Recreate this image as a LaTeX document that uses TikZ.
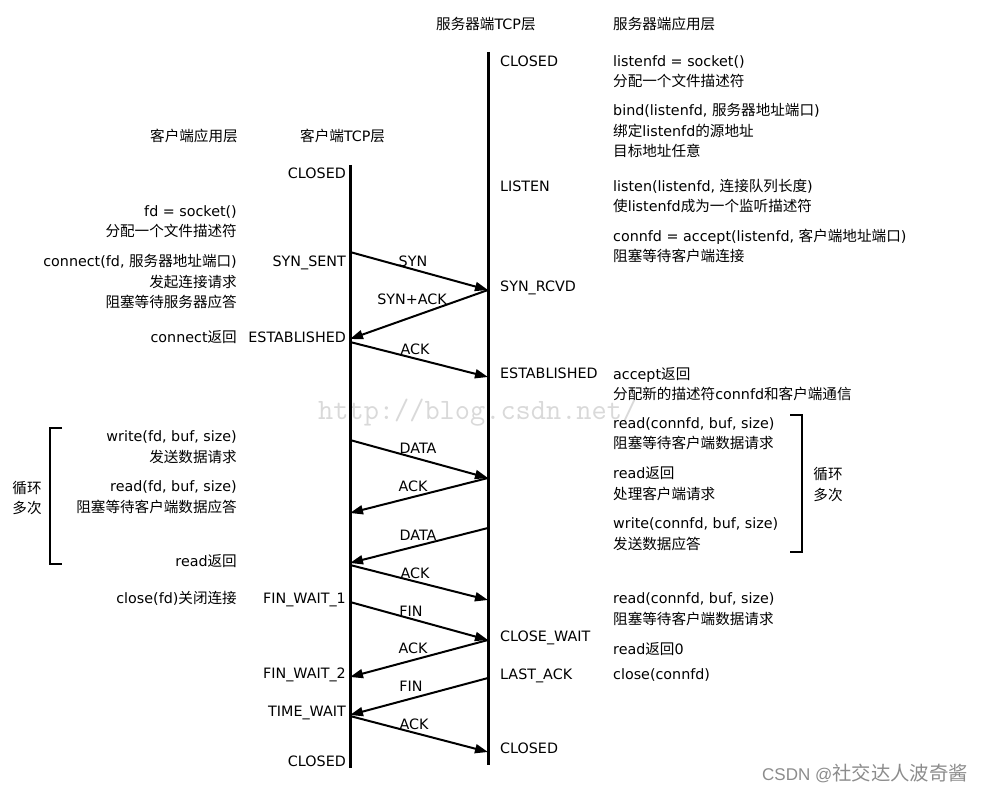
\documentclass[tikz,border=0pt]{standalone}
\usepackage{fontspec}
\setmainfont{DejaVu Sans}
\newfontfamily\cjk[Scale=1.02]{Noto Sans CJK SC}
\newfontfamily\csdnlat{Liberation Sans}
\usetikzlibrary{arrows.meta}
\newcommand\zh[1]{{\cjk #1}}
\begin{document}
\begin{tikzpicture}[x=1pt,y=-1pt,
  txt/.style={font=\fontsize{14.3}{16}\selectfont, inner sep=0pt, text=black, yshift=-1.5pt},
  ltxt/.style={txt, anchor=base west},
  rtxt/.style={txt, anchor=base east},
  lbl/.style={txt, anchor=base},
  life/.style={line width=3pt},
  msg/.style={line width=2pt, -{Triangle[length=13pt,width=9pt]}},
  brk/.style={line width=2.5pt},
  wm/.style={inner sep=0pt, anchor=base west, text=black!15, font=\fontsize{29.5}{29.5}\ttfamily},
  csdn/.style={inner sep=0pt, anchor=base west, text=black!45}
]
\fill[white] (0,0) rectangle (989,794);
\useasboundingbox (0,0) rectangle (989,794);

% watermark
\node[wm] (wm) at (318,420) {http://blog.csdn.net/};

% headers
\node[ltxt] (hsT) at (436,28) {\zh{服务器端}TCP\zh{层}};
\node[ltxt] (hsA) at (613,28) {\zh{服务器端应用层}};
\node[ltxt] (hcA) at (150,140) {\zh{客户端应用层}};
\node[ltxt] (hcT) at (300,140) {\zh{客户端}TCP\zh{层}};

% lifelines
\coordinate (ctop) at (350,165);
\coordinate (cbot) at (350,768);
\coordinate (stop) at (488,52);
\coordinate (sbot) at (488,765);
\draw[life] (ctop) -- (cbot);
\draw[life] (stop) -- (sbot);

% server states
\node[ltxt] (ss1) at (500,65) {CLOSED};
\node[ltxt] (ss2) at (500,190) {LISTEN};
\node[ltxt] (ss3) at (500,290) {SYN\_RCVD};
\node[ltxt] (ss4) at (500,377) {ESTABLISHED};
\node[ltxt] (ss5) at (500,640) {CLOSE\_WAIT};
\node[ltxt] (ss6) at (500,678) {LAST\_ACK};
\node[ltxt] (ss7) at (500,752) {CLOSED};

% client states
\node[rtxt] (cs1) at (346,177) {CLOSED};
\node[rtxt] (cs2) at (346,265) {SYN\_SENT};
\node[rtxt] (cs3) at (346,341) {ESTABLISHED};
\node[rtxt] (cs4) at (346,602) {FIN\_WAIT\_1};
\node[rtxt] (cs5) at (346,677) {FIN\_WAIT\_2};
\node[rtxt] (cs6) at (346,715) {TIME\_WAIT};
\node[rtxt] (cs7) at (346,765) {CLOSED};

% server application
\node[ltxt] (sa1) at (613,65) {listenfd = socket()};
\node[ltxt] (sa2) at (613,85) {\zh{分配一个文件描述符}};
\node[ltxt] (sa3) at (613,114) {bind(listenfd, \zh{服务器地址端口})};
\node[ltxt] (sa4) at (613,135) {\zh{绑定}listenfd\zh{的源地址}};
\node[ltxt] (sa5) at (613,155) {\zh{目标地址任意}};
\node[ltxt] (sa6) at (613,190) {listen(listenfd, \zh{连接队列长度})};
\node[ltxt] (sa7) at (613,210) {\zh{使}listenfd\zh{成为一个监听描述符}};
\node[ltxt] (sa8) at (613,240) {connfd = accept(listenfd, \zh{客户端地址端口})};
\node[ltxt] (sa9) at (613,260) {\zh{阻塞等待客户端连接}};
\node[ltxt] (sa10) at (613,378) {accept\zh{返回}};
\node[ltxt] (sa11) at (613,398) {\zh{分配新的描述符}connfd\zh{和客户端通信}};
\node[ltxt] (sa12) at (613,427) {read(connfd, buf, size)};
\node[ltxt] (sa13) at (613,447) {\zh{阻塞等待客户端数据请求}};
\node[ltxt] (sa14) at (613,477) {read\zh{返回}};
\node[ltxt] (sa15) at (613,498) {\zh{处理客户端请求}};
\node[ltxt] (sa16) at (613,527) {write(connfd, buf, size)};
\node[ltxt] (sa17) at (613,548) {\zh{发送数据应答}};
\node[ltxt] (sa18) at (613,602) {read(connfd, buf, size)};
\node[ltxt] (sa19) at (613,623) {\zh{阻塞等待客户端数据请求}};
\node[ltxt] (sa20) at (613,653) {read\zh{返回}0};
\node[ltxt] (sa21) at (613,678) {close(connfd)};

% client application
\node[rtxt] (ca1) at (237,215) {fd = socket()};
\node[rtxt] (ca2) at (237,235) {\zh{分配一个文件描述符}};
\node[rtxt] (ca3) at (237,265) {connect(fd, \zh{服务器地址端口})};
\node[rtxt] (ca4) at (237,286) {\zh{发起连接请求}};
\node[rtxt] (ca5) at (237,306) {\zh{阻塞等待服务器应答}};
\node[rtxt] (ca6) at (237,341) {connect\zh{返回}};
\node[rtxt] (ca7) at (237,440) {write(fd, buf, size)};
\node[rtxt] (ca8) at (237,461) {\zh{发送数据请求}};
\node[rtxt] (ca9) at (237,490) {read(fd, buf, size)};
\node[rtxt] (ca10) at (237,511) {\zh{阻塞等待客户端数据应答}};
\node[rtxt] (ca11) at (237,565) {read\zh{返回}};
\node[rtxt] (ca12) at (237,602) {close(fd)\zh{关闭连接}};

% brackets
\draw[brk] (62,428) -- (50,428) -- (50,564) -- (62,564);
\node[lbl] (lpL1) at (27,492) {\zh{循环}};
\node[lbl] (lpL2) at (27,512) {\zh{多次}};
\draw[brk] (790,415) -- (802,415) -- (802,552) -- (790,552);
\node[lbl] (lpR1) at (828,478) {\zh{循环}};
\node[lbl] (lpR2) at (828,499) {\zh{多次}};

% message endpoints
\coordinate (c1) at (350,252);  \coordinate (s1) at (488,290);
\coordinate (c2) at (350,339);
\coordinate (c3) at (350,342);  \coordinate (s2) at (488,377);
\coordinate (c4) at (350,440);  \coordinate (s3) at (488,478);
\coordinate (c5) at (350,513);
\coordinate (s4) at (488,528);  \coordinate (c6) at (350,563);
\coordinate (c7) at (350,565);  \coordinate (s5) at (488,600);
\coordinate (c8) at (350,602);  \coordinate (s6) at (488,640);
\coordinate (c9) at (350,677);
\coordinate (s7) at (488,678);  \coordinate (c10) at (350,715);
\coordinate (c11) at (350,716); \coordinate (s8) at (488,752);

\draw[msg] (c1) -- (s1);
\draw[msg] (s1) -- (c2);
\draw[msg] (c3) -- (s2);
\draw[msg] (c4) -- (s3);
\draw[msg] (s3) -- (c5);
\draw[msg] (s4) -- (c6);
\draw[msg] (c7) -- (s5);
\draw[msg] (c8) -- (s6);
\draw[msg] (s6) -- (c9);
\draw[msg] (s7) -- (c10);
\draw[msg] (c11) -- (s8);

\node[lbl] (m1) at (413,265) {SYN};
\node[lbl] (m2) at (412,303) {SYN+ACK};
\node[lbl] (m3) at (415,353) {ACK};
\node[lbl] (m4) at (418,452) {DATA};
\node[lbl] (m5) at (413,490) {ACK};
\node[lbl] (m6) at (418,539) {DATA};
\node[lbl] (m7) at (415,577) {ACK};
\node[lbl] (m8) at (411,615) {FIN};
\node[lbl] (m9) at (413,652) {ACK};
\node[lbl] (m10) at (411,690) {FIN};
\node[lbl] (m11) at (414,728) {ACK};

% CSDN mark
\node[csdn] (csdn) at (762,780) {{\fontsize{17}{17}\csdnlat CSDN @}{\fontsize{19}{19}\cjk 社交达人波奇酱}};
\end{tikzpicture}
\end{document}
